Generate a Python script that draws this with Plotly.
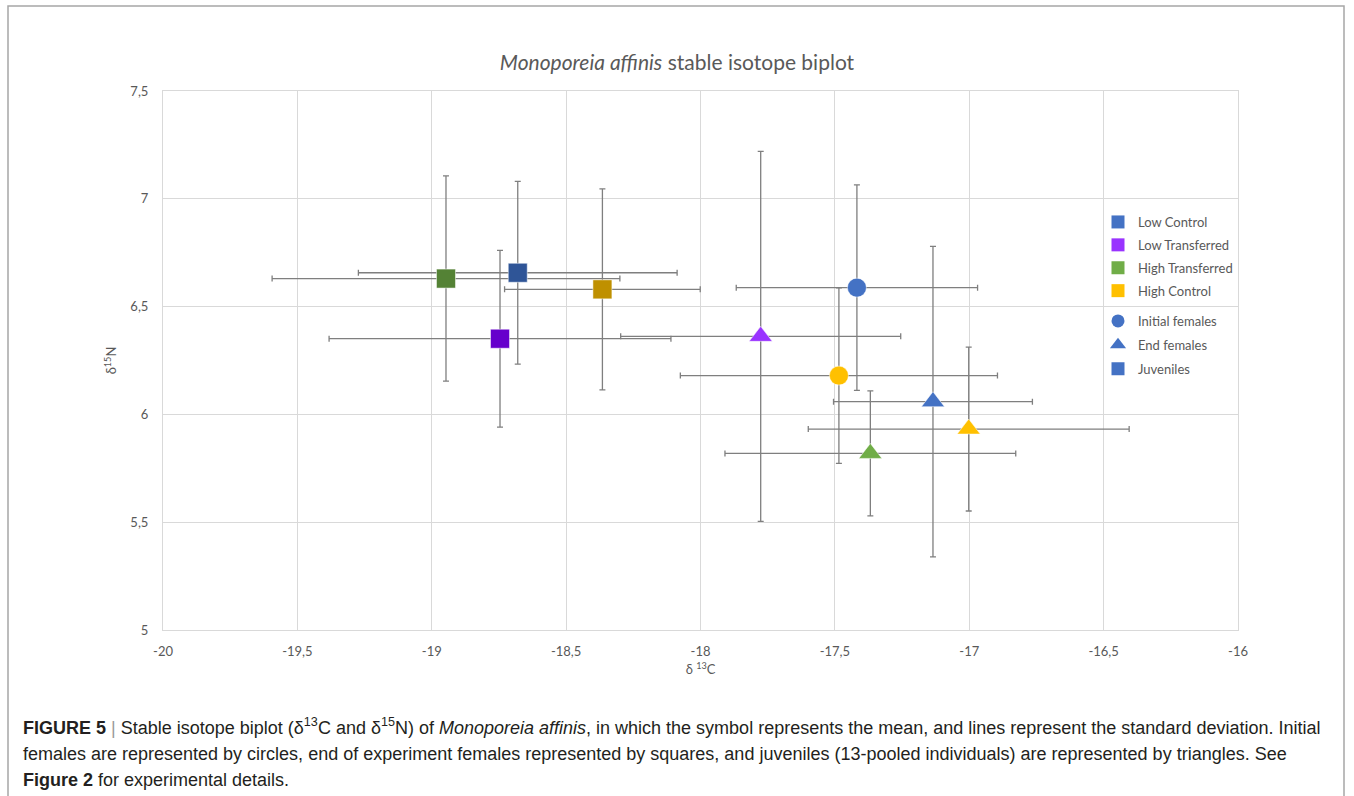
import plotly.graph_objects as go

# ---------------- data ----------------
groups = ["Low Control", "Low Transferred", "High Transferred", "High Control"]

# Juveniles (squares)
juv_d13c = [-18.680, -18.746, -18.947, -18.365]
juv_d13c_sd = [0.593, 0.636, 0.647, 0.364]
juv_d15n = [6.657, 6.351, 6.630, 6.580]
juv_d15n_sd = [0.424, 0.410, 0.476, 0.466]
juv_colors = ["#2F5597", "#6600CC", "#548235", "#BF9000"]

# End females (triangles)
end_d13c = [-17.135, -17.776, -17.368, -17.002]
end_d13c_sd = [0.370, 0.521, 0.541, 0.597]
end_d15n = [6.059, 6.362, 5.819, 5.932]
end_d15n_sd = [0.720, 0.858, 0.290, 0.380]
end_colors = ["#4472C4", "#9933FF", "#70AD47", "#FFC000"]

# Initial females (circles)
init_groups = ["Low", "High"]
init_d13c = [-17.418, -17.485]
init_d13c_sd = [0.449, 0.590]
init_d15n = [6.588, 6.180]
init_d15n_sd = [0.477, 0.407]
init_colors = ["#4472C4", "#FFC000"]

legend_colors = ["#4472C4", "#9933FF", "#70AD47", "#FFC000"]
stage_names = ["Initial females", "End females", "Juveniles"]
stage_symbols = ["circle", "triangle-up", "square"]

x_tickvals = [-20, -19.5, -19, -18.5, -18, -17.5, -17, -16.5, -16]
x_ticktext = ["-20", "-19,5", "-19", "-18,5", "-18", "-17,5", "-17", "-16,5", "-16"]
y_tickvals = [5, 5.5, 6, 6.5, 7, 7.5]
y_ticktext = ["5", "5,5", "6", "6,5", "7", "7,5"]

caption_lines = [
    "<b>FIGURE 5</b> <span style='color:#9a9a9a'>|</span> Stable isotope biplot (δ<sup>13</sup>C and δ<sup>15</sup>N) of "
    "<i>Monoporeia affinis</i>, in which the symbol represents the mean, and lines represent the standard deviation. Initial",
    "females are represented by circles, end of experiment females represented by squares, and juveniles "
    "(13-pooled individuals) are represented by triangles. See",
    "<b>Figure 2</b> for experimental details.",
]

# ---------------- figure ----------------
fig = go.Figure()
ERR = "#7F7F7F"
TXT = "#595959"
FONT = "Lato, Open Sans, sans-serif"

datasets = [
    (juv_d13c, juv_d13c_sd, juv_d15n, juv_d15n_sd, juv_colors, "square", 19),
    (init_d13c, init_d13c_sd, init_d15n, init_d15n_sd, init_colors, "circle", 19),
    (end_d13c, end_d13c_sd, end_d15n, end_d15n_sd, end_colors, "triangle-up", 20),
]

# error bars first (below all markers)
for xs, xsd, ys, ysd, cols, sym, sz in datasets:
    fig.add_trace(go.Scatter(
        x=xs, y=ys, mode="markers",
        marker=dict(size=1, color="rgba(0,0,0,0)"),
        error_x=dict(type="data", array=xsd, color=ERR, thickness=1.3, width=3),
        error_y=dict(type="data", array=ysd, color=ERR, thickness=1.3, width=3),
        showlegend=False, hoverinfo="skip",
    ))

for xs, xsd, ys, ysd, cols, sym, sz in datasets:
    fig.add_trace(go.Scatter(
        x=xs, y=ys, mode="markers",
        marker=dict(symbol=sym, size=sz, color=cols,
                    line=dict(width=1, color="rgba(255,255,255,0.5)")),
        showlegend=False,
    ))

# legend entries (treatments)
for name, col in zip(groups, legend_colors):
    fig.add_trace(go.Scatter(
        x=[None], y=[None], mode="markers", name=name,
        marker=dict(symbol="square", size=13, color=col),
        legendgroup=name, legend="legend",
    ))
# legend entries (life stages)
leg2_sizes = [13, 14, 13]
for name, sym, sz in zip(stage_names, stage_symbols, leg2_sizes):
    fig.add_trace(go.Scatter(
        x=[None], y=[None], mode="markers", name=name,
        marker=dict(symbol=sym, size=sz, color="#4472C4"),
        legendgroup=name, legend="legend2",
    ))

L, R, T, B = 163, 116, 91, 166
W, H = 1354, 796
pw, ph = W - L - R, H - T - B


def px2paper_x(px):
    return (px - L) / pw


def px2paper_y(py):
    return (H - B - py) / ph


annotations = []
caption_y = [726, 754, 780]
for line, yy in zip(caption_lines, caption_y):
    annotations.append(dict(
        text=line, xref="paper", yref="paper",
        x=px2paper_x(21), y=px2paper_y(yy), xanchor="left", yanchor="middle",
        showarrow=False, align="left",
        font=dict(family="Liberation Sans Narrow, Arial Narrow, Liberation Sans, sans-serif",
                  size=18, color="#231F20"),
    ))

fig.update_layout(
    width=W, height=H, autosize=False,
    margin=dict(l=L, r=R, t=T, b=B),
    paper_bgcolor="white", plot_bgcolor="white",
    title=dict(text="<i>Monoporeia affinis</i> stable isotope biplot",
               x=0.5, xref="container", xanchor="center",
               y=1 - 63 / H, yref="container", yanchor="middle",
               font=dict(family=FONT, size=21, color=TXT)),
    xaxis=dict(range=[-20, -16], tickvals=x_tickvals, ticktext=x_ticktext,
               showgrid=True, gridcolor="#D9D9D9", gridwidth=1,
               showline=True, linecolor="#D9D9D9", linewidth=1, mirror=True,
               zeroline=False, ticks="", ticklabelstandoff=9,
               tickfont=dict(family=FONT, size=13, color=TXT),
               title=dict(text="δ <sup>13</sup>C", standoff=7,
                          font=dict(family=FONT, size=13, color=TXT))),
    yaxis=dict(range=[5, 7.5], tickvals=y_tickvals, ticktext=y_ticktext,
               showgrid=True, gridcolor="#D9D9D9", gridwidth=1,
               showline=True, linecolor="#D9D9D9", linewidth=1, mirror=True,
               zeroline=False, ticks="", ticklabelstandoff=11,
               tickfont=dict(family=FONT, size=13, color=TXT),
               title=dict(text="δ<sup>15</sup>N", standoff=10,
                          font=dict(family=FONT, size=13, color=TXT))),
    legend=dict(x=px2paper_x(1098), y=px2paper_y(207), xanchor="left", yanchor="top",
                bgcolor="rgba(0,0,0,0)", borderwidth=0, tracegroupgap=3,
                traceorder="grouped",
                font=dict(family=FONT, size=13, color=TXT)),
    legend2=dict(x=px2paper_x(1098), y=px2paper_y(306), xanchor="left", yanchor="top",
                 bgcolor="rgba(0,0,0,0)", borderwidth=0, tracegroupgap=4,
                 traceorder="grouped",
                 font=dict(family=FONT, size=13, color=TXT)),
    annotations=annotations,
    shapes=[dict(type="rect", xref="paper", yref="paper",
                 x0=px2paper_x(8), x1=px2paper_x(1344),
                 y0=px2paper_y(820), y1=px2paper_y(6),
                 line=dict(color="#A6A6A6", width=1.5))],
    showlegend=True,
)

fig.write_html("out.html")
